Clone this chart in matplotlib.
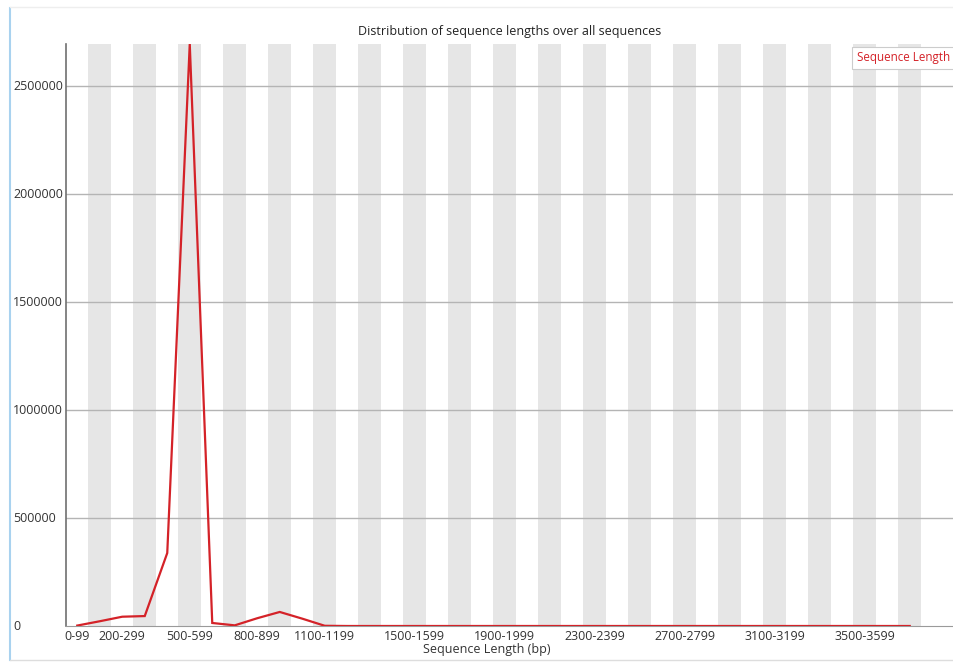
import matplotlib.pyplot as plt
from matplotlib.lines import Line2D

# sequence length distribution (reads per 100bp bin)
bins = ['%d-%d' % (i * 100, i * 100 + 99) for i in range(38)]
counts = [2000, 22000, 43000, 46000, 338000, 2695000, 14000, 3000, 36000, 65000,
          34000, 1000, 0, 0, 0, 0, 0, 0, 0, 0,
          0, 0, 0, 0, 0, 0, 0, 0, 0, 0,
          0, 0, 0, 0, 0, 0, 0, 0]
shown_labels = ['0-99', '200-299', '500-599', '800-899', '1100-1199', '1500-1599',
                '1900-1999', '2300-2399', '2700-2799', '3100-3199', '3500-3599']
yticks = [0, 500000, 1000000, 1500000, 2000000, 2500000]

plt.rcParams['font.family'] = ['Open Sans', 'DejaVu Sans']

W, H = 954, 662
fig = plt.figure(figsize=(W / 100, H / 100), dpi=100, facecolor='white')
ax = fig.add_axes([66 / W, 36 / H, (W - 66) / W, 582 / H])

x = list(range(len(bins)))

# bande grigie alternate
for i in x:
    if i % 2 == 1:
        ax.axvspan(i - 0.5, i + 0.5, color='#e6e6e6', lw=0, zorder=0)

for v in yticks[1:]:
    ax.axhline(v, color='#b4b4b4', lw=1, zorder=1)

ax.plot(x, counts, color='#d42228', lw=1.6, zorder=3, solid_joinstyle='miter')

ax.set_xlim(-0.5, -0.5 + (W - 66) / 22.5)
ax.set_ylim(0, max(counts))

for s in ['top', 'right']:
    ax.spines[s].set_visible(False)
ax.spines['left'].set_color('#707070')
ax.spines['bottom'].set_color('#9a9a9a')
ax.spines['left'].set_linewidth(1.2)

ax.set_xticks([bins.index(l) for l in shown_labels])
ax.set_xticklabels(shown_labels, fontsize=9, color='#333333')
ax.set_yticks([])
ax.tick_params(axis='x', length=0, pad=3)

# etichette asse y allineate a sinistra come in FastQC
for v in yticks:
    ax.text(13 / W, v, str(v), transform=ax.get_yaxis_transform().__class__(fig.transFigure, ax.transData),
            ha='left', va='center', fontsize=9, color='#333333')

fig.text(510 / W, 1 - 32 / H, 'Distribution of sequence lengths over all sequences',
         ha='center', va='center', fontsize=9, color='#222222')
fig.text(487 / W, 1 - 650 / H, 'Sequence Length (bp)', ha='center', va='center',
         fontsize=9, color='#333333')

# legenda (riquadro tagliato sul bordo destro)
fig.text(857 / W, 1 - 58 / H, 'Sequence Length', ha='left', va='center', fontsize=8.4,
         color='#d42228',
         bbox=dict(boxstyle='square,pad=0.4', fc='white', ec='#cccccc', lw=0.8))

# cornice della finestra
fig.add_artist(Line2D([10 / W, 10 / W], [2 / H, 1 - 8 / H], transform=fig.transFigure,
                      color='#a9d2ef', lw=1.5))
fig.add_artist(Line2D([10 / W, 1], [1 - 7 / H, 1 - 7 / H], transform=fig.transFigure,
                      color='#eeeeee', lw=1))
fig.add_artist(Line2D([10 / W, 1], [2 / H, 2 / H], transform=fig.transFigure,
                      color='#dddddd', lw=1))

fig.savefig('out.png', dpi=100)
